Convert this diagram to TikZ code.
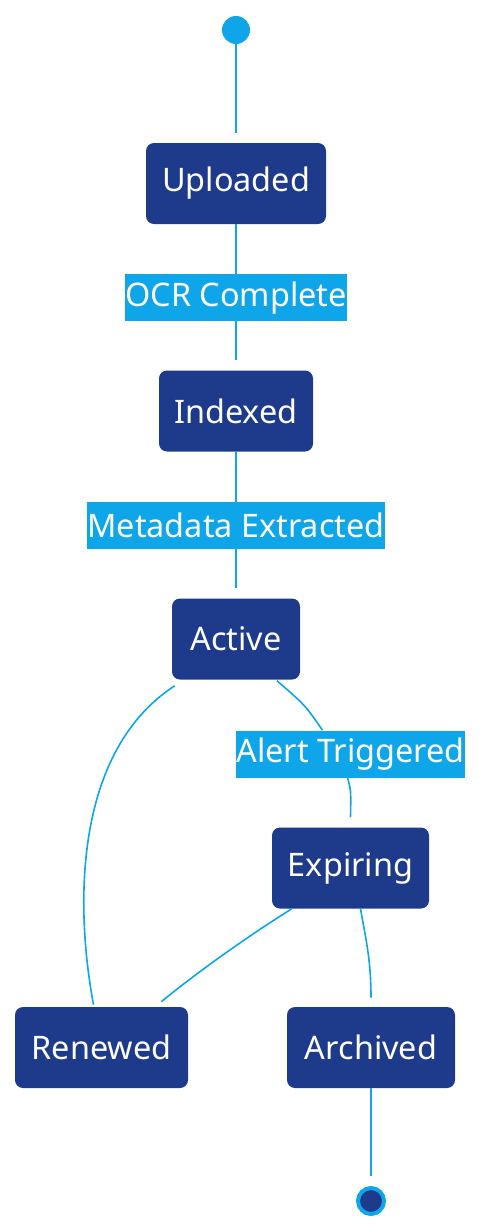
\documentclass[tikz,border=0pt]{standalone}
\usepackage{fontspec}
\setmainfont{Noto Sans}
\usepackage{tikz}
\usetikzlibrary{calc,positioning}
\definecolor{skyline}{HTML}{0EA5E9}
\definecolor{navybox}{HTML}{1E3A8A}
\tikzset{%
	state/.style    = {fill=navybox, rounded corners=6pt, text=white, minimum height=60.75pt, font=\fontsize{24.3}{28}\selectfont}, % State box
	lbl/.style      = {fill=skyline, text=white, inner sep=0pt, minimum height=35.25pt, font=\fontsize{24.3}{28}\selectfont}, % Transition label
	startdot/.style = {circle, fill=skyline, minimum size=21pt, inner sep=0pt}, % Initial state
	enddot/.style   = {circle, fill=navybox, draw=skyline, line width=3pt, minimum size=19.5pt, inner sep=0pt}, % Final state
	edge/.style     = {draw=skyline, line width=1.2pt}, % Transition
}
\begin{document}
\begin{tikzpicture}[x=0.75pt, y=-0.75pt]
		\useasboundingbox (0,0) rectangle (480,1232);
		\node[startdot] (init) at (236,30) {};
		\node[state, minimum width=135pt] (upl) at (236,183.5) {Uploaded};
		\node[state, minimum width=115.5pt] (idx) at (236,411) {Indexed};
		\node[state, minimum width=96pt] (act) at (236,639) {Active};
		\node[state, minimum width=117.75pt] (exp) at (350.5,868) {Expiring};
		\node[state, minimum width=129.75pt] (ren) at (101.5,1047.5) {Renewed};
		\node[state, minimum width=126pt] (arc) at (371,1047.5) {Archived};
		\node[enddot] (fin) at (371,1201) {};
		\node[lbl] (alert) at (350.5,754) {Alert Triggered};
		\draw[edge] (init) -- ($(upl.north)+(0,-10)$);
		\draw[edge] (upl) -- node[lbl, pos=0.54] {OCR Complete} ($(idx.north)+(0,-10)$);
		\draw[edge] (idx) -- node[lbl, pos=0.54] {Metadata Extracted} ($(act.north)+(0,-10)$);
		\draw[edge] ($(act.south)+(41,1)$) .. controls (305,705) .. ($(alert.north)+(-28,0)$);
		\draw[edge] ($(alert.south)+(-3,0)$) .. controls (351,790) .. ($(exp.north)+(0,-10)$);
		\draw[edge] ($(act.south west)+(3,6)$) .. controls (76,750) and (74,900) .. ($(ren.north)+(-8,-2)$);
		\draw[edge] ($(exp.south west)+(20,0)$) .. controls (250,935) and (200,970) .. ($(ren.north east)+(-27,-5)$);
		\draw[edge] ($(exp.south)+(10,0)$) .. controls (366,940) and (371,960) .. ($(arc.north)+(0,-9)$);
		\draw[edge] (arc) -- ($(fin.north)+(0,-10)$);
		
		\end{tikzpicture}
\end{document}
